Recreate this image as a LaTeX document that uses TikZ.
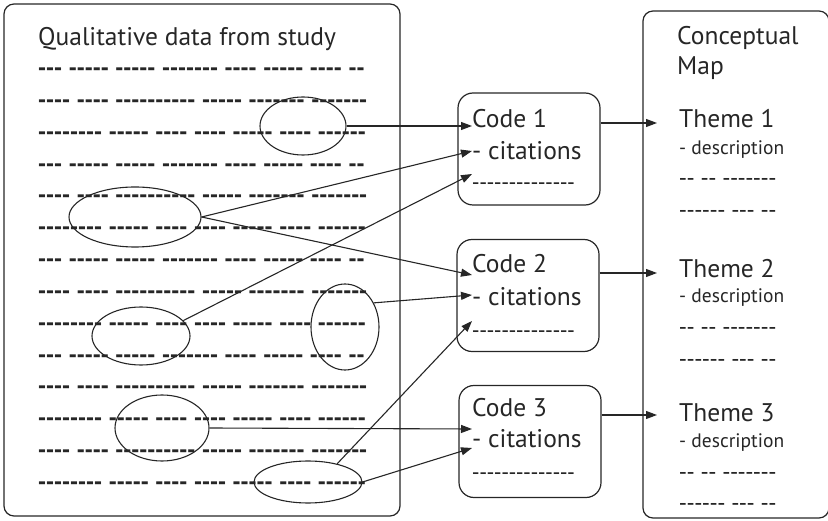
\documentclass[tikz,border=0pt]{standalone}
\usepackage{fontspec}
\usetikzlibrary{shapes.geometric,arrows.meta}
\newfontfamily\labelfont{PT Sans}
\newfontfamily\dashfont{Liberation Sans}
\definecolor{ink}{HTML}{262626}
\tikzset{
  panel/.style={draw=ink, line width=1.2pt, rounded corners=10pt, inner sep=0pt},
  codebox/.style={draw=ink, line width=1.2pt, rounded corners=15pt,
    minimum width=142pt, minimum height=112pt, inner sep=0pt},
  quote/.style={ellipse, draw=ink, line width=1.1pt, inner sep=0pt},
  link/.style={draw=ink, line width=1.1pt, -{Triangle[length=11pt,width=8pt]}},
  heading/.style={anchor=base west, inner sep=0pt, text=ink,
    font=\fontsize{25.5}{28}\selectfont\labelfont},
  note/.style={anchor=base west, inner sep=0pt, text=ink,
    font=\fontsize{19.5}{22}\selectfont\labelfont},
  datarow/.style={anchor=base west, inner sep=0pt, text=ink,
    font=\fontsize{24}{26}\selectfont\dashfont\bfseries},
  fillrow/.style={anchor=base west, inner sep=0pt, text=ink,
    font=\fontsize{23}{26}\selectfont\dashfont},
}
\begin{document}
\begin{tikzpicture}[x=1pt,y=-1pt]
\useasboundingbox (0,0) rectangle (828,521);

% panels
\node[panel, minimum width=396pt, minimum height=512pt] (data) at (202,260) {};
\node[panel, minimum width=186pt, minimum height=507pt] (map) at (736,264.5) {};

% transcript of the study
\node[heading] (title) at (38,46) {Qualitative data from study};
\def\rowA{--- ----- ----- ------- ---- ----- ---- --}
\def\rowB{---- ---- ---------- ----- ------- -------}
\def\rowC{-------- ----- ---- ---- ----- ---- ------}
\foreach \r/\txt in {0/\rowA,1/\rowB,2/\rowC,3/\rowA,4/\rowB,5/\rowC,6/\rowA,
                     7/\rowB,8/\rowC,9/\rowA,10/\rowB,11/\rowC,12/\rowB,13/\rowC}
  \node[datarow] (row\r) at (38,{75.5+31.85*\r}) {\txt};

% marked passages
\node[quote, minimum width=86pt,  minimum height=58pt] (e1) at (303,126) {};
\node[quote, minimum width=132pt, minimum height=60pt] (e2) at (135,217) {};
\node[quote, minimum width=98pt,  minimum height=58pt] (e3) at (141,336) {};
\node[quote, minimum width=68pt,  minimum height=86pt] (e4) at (345,327) {};
\node[quote, minimum width=94pt,  minimum height=66pt] (e5) at (162,428) {};
\node[quote, minimum width=108pt, minimum height=42pt] (e6) at (308,482) {};

% codes
\node[codebox] (c1) at (529,149) {};
\node[codebox] (c2) at (528,295.5) {};
\node[codebox] (c3) at (530,441.5) {};
\node[heading] (c1t) at (472,128) {Code 1};
\node[heading] (c1c) at (472,160) {- citations};
\node[fillrow, font=\fontsize{22}{24}\selectfont\dashfont] (c1d) at (472,190) {--------------};
\node[heading] (c2t) at (472,273) {Code 2};
\node[heading] (c2c) at (472,306) {- citations};
\node[fillrow, font=\fontsize{22}{24}\selectfont\dashfont] (c2d) at (472,338) {--------------};
\node[heading] (c3t) at (472,417) {Code 3};
\node[heading] (c3c) at (472,448) {- citations};
\node[fillrow, font=\fontsize{22}{24}\selectfont\dashfont] (c3d) at (472,479) {--------------};

% entry points on the codes
\coordinate (c1a) at (472,126);
\coordinate (c1b) at (472,151);
\coordinate (c1e) at (472,174);
\coordinate (c2a) at (472,275);
\coordinate (c2b) at (472,295);
\coordinate (c2e) at (472,321);
\coordinate (c3a) at (472,429);
\coordinate (c3b) at (472,448);

% conceptual map
\node[heading] (mapt1) at (677,45) {Conceptual};
\node[heading] (mapt2) at (677,75) {Map};
\node[heading] (t1) at (679,128) {Theme 1};
\node[note] (t1d) at (679,155) {- description};
\node[fillrow] (t1x) at (679,186) {-- -- -------};
\node[fillrow] (t1y) at (679,218) {------ --- --};
\node[heading] (t2) at (679,278) {Theme 2};
\node[note] (t2d) at (679,303) {- description};
\node[fillrow] (t2x) at (679,335) {-- -- -------};
\node[fillrow] (t2y) at (679,367) {------ --- --};
\node[heading] (t3) at (679,422) {Theme 3};
\node[note] (t3d) at (679,447) {- description};
\node[fillrow] (t3x) at (679,479) {-- -- -------};
\node[fillrow] (t3y) at (679,510) {------ --- --};

\coordinate (t1in) at (657,123);
\coordinate (t2in) at (657,273);
\coordinate (t3in) at (657,415);

% passages to codes
\draw[link] (e1.east) -- (c1a);
\draw[link] (e2.east) -- (c1b);
\draw[link] (e3.20) -- (c1e);
\draw[link] (e2.east) -- (c2a);
\draw[link] (e4.40) -- (c2b);
\draw[link] (e6.32) -- (c2e);
\draw[link] (e5.east) -- (c3a);
\draw[link] (e6.east) -- (c3b);

% codes to themes
\draw[link] (c1.east |- t1in) -- (t1in);
\draw[link] (c2.east |- t2in) -- (t2in);
\draw[link] (c3.east |- t3in) -- (t3in);
\end{tikzpicture}
\end{document}
